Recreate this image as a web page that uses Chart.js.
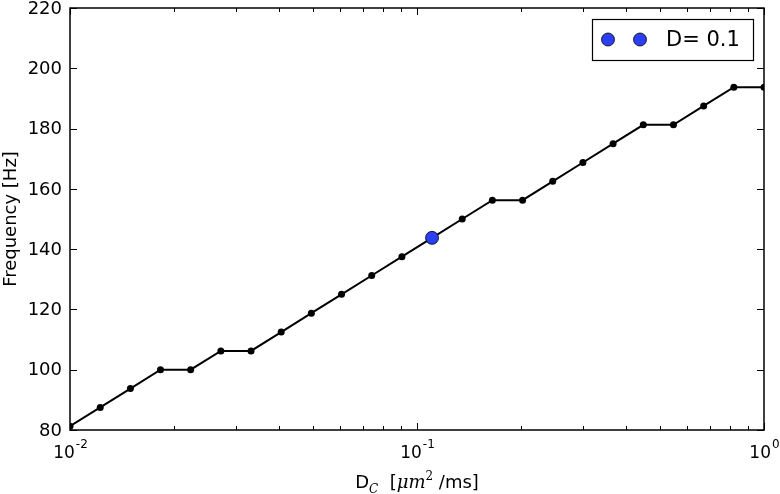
<!DOCTYPE html>
<html><head><meta charset="utf-8">
<script src="https://cdn.jsdelivr.net/npm/chart.js@4/dist/chart.umd.min.js"></script>
<style>html,body{margin:0;padding:0;background:#fff}#wrap{width:780px;height:494px}</style>
</head><body><div id="wrap"><canvas id="c" width="780" height="494"></canvas></div>
<script>
const diffusionC = [0.0100, 0.01222, 0.01493, 0.01823, 0.02227, 0.02721, 0.03324, 0.04061, 0.04961, 0.06061, 0.07405, 0.09047, 0.1105, 0.1350, 0.1649, 0.2015, 0.2461, 0.3007, 0.3674, 0.4489, 0.5484, 0.6700, 0.8185, 1.0];
const frequencyHz = [81.25, 87.5, 93.75, 100, 100, 106.25, 106.25, 112.5, 118.75, 125, 131.25, 137.5, 143.75, 150, 156.25, 156.25, 162.5, 168.75, 175, 181.25, 181.25, 187.5, 193.75, 193.75];
const markedD = [0.1105];
const markedFreq = [143.75];
const legendLabel = 'D= 0.1';
const yTicks = [80, 100, 120, 140, 160, 180, 200, 220];
const xMajorTicks = [0.01, 0.1, 1];
const xMajorLabels = [['10', '-2'], ['10', '-1'], ['10', '0']];
const xMinorTicks = [0.02, 0.03, 0.04, 0.05, 0.06, 0.07, 0.08, 0.09, 0.2, 0.3, 0.4, 0.5, 0.6, 0.7, 0.8, 0.9];
const yTitle = 'Frequency [Hz]';

const BLUE = '#2a3ff2';
const FONT = '"DejaVu Sans", sans-serif';

const framePlugin = {
  id: 'frame',
  afterDraw(chart) {
    const ctx = chart.ctx, a = chart.chartArea;
    const xs = chart.scales.x, ys = chart.scales.y;
    ctx.save();
    ctx.strokeStyle = '#000';
    ctx.lineWidth = 1.5;
    ctx.strokeRect(a.left, a.top, a.right - a.left, a.bottom - a.top);
    ctx.lineWidth = 1;
    ctx.beginPath();
    xMajorTicks.forEach(v => {
      const px = Math.round(xs.getPixelForValue(v)) + 0.5;
      ctx.moveTo(px, a.bottom); ctx.lineTo(px, a.bottom - 7);
      ctx.moveTo(px, a.top); ctx.lineTo(px, a.top + 7);
    });
    xMinorTicks.forEach(v => {
      const px = Math.round(xs.getPixelForValue(v)) + 0.5;
      ctx.moveTo(px, a.bottom); ctx.lineTo(px, a.bottom - 4);
      ctx.moveTo(px, a.top); ctx.lineTo(px, a.top + 4);
    });
    yTicks.forEach(v => {
      const py = Math.round(ys.getPixelForValue(v)) + 0.5;
      ctx.moveTo(a.left, py); ctx.lineTo(a.left + 7, py);
      ctx.moveTo(a.right, py); ctx.lineTo(a.right - 7, py);
    });
    ctx.stroke();

    ctx.fillStyle = '#000';
    // y tick labels
    ctx.font = '18px ' + FONT;
    ctx.textAlign = 'right';
    ctx.textBaseline = 'middle';
    yTicks.forEach(v => {
      ctx.fillText(String(v), a.left - 8, ys.getPixelForValue(v) + 1);
    });
    // x tick labels with superscript
    ctx.textBaseline = 'alphabetic';
    xMajorTicks.forEach((v, i) => {
      const px = xs.getPixelForValue(v);
      const [base, exp] = xMajorLabels[i];
      ctx.font = '17px ' + FONT;
      const wb = ctx.measureText(base).width;
      ctx.font = '12px ' + FONT;
      const we = ctx.measureText(exp).width;
      const start = px - (wb + we) / 2;
      ctx.textAlign = 'left';
      ctx.font = '17px ' + FONT;
      ctx.fillText(base, start, a.bottom + 28);
      ctx.font = '12px ' + FONT;
      ctx.fillText(exp, start + wb + 1, a.bottom + 18);
    });
    // x title: D_C [μm^2 /ms]
    const cx = (a.left + a.right) / 2;
    const by = a.bottom + 58;
    const parts = [
      {t: 'D', f: '18px ' + FONT, dy: 0},
      {t: 'C', f: 'italic 12px "DejaVu Serif", serif', dy: 5},
      {t: '  [', f: '18px ' + FONT, dy: 0},
      {t: 'μm', f: 'italic 18px "DejaVu Serif", serif', dy: 0},
      {t: '2', f: '12px "DejaVu Serif", serif', dy: -8},
      {t: ' /ms]', f: '18px ' + FONT, dy: 0}
    ];
    let total = 0;
    parts.forEach(p => { ctx.font = p.f; p.w = ctx.measureText(p.t).width; total += p.w; });
    let x0 = cx - total / 2;
    ctx.textAlign = 'left';
    parts.forEach(p => { ctx.font = p.f; ctx.fillText(p.t, x0, by + p.dy); x0 += p.w; });
    // y title
    ctx.save();
    ctx.translate(11, (a.top + a.bottom) / 2);
    ctx.rotate(-Math.PI / 2);
    ctx.font = '18px ' + FONT;
    ctx.textAlign = 'center';
    ctx.textBaseline = 'middle';
    ctx.fillText(yTitle, 0, 0);
    ctx.restore();

    // legend
    const lx = a.right - 172, ly = a.top + 11, lw = 161, lh = 41;
    ctx.fillStyle = '#fff';
    ctx.fillRect(lx, ly, lw, lh);
    ctx.lineWidth = 1.2;
    ctx.strokeStyle = '#000';
    ctx.strokeRect(lx + 0.5, ly + 0.5, lw, lh);
    [lx + 16, lx + 48].forEach(mx => {
      ctx.beginPath();
      ctx.arc(mx, ly + 20.5, 6.5, 0, Math.PI * 2);
      ctx.fillStyle = BLUE; ctx.fill();
      ctx.lineWidth = 0.8; ctx.strokeStyle = '#000'; ctx.stroke();
    });
    ctx.fillStyle = '#000';
    ctx.font = '21px ' + FONT;
    ctx.textAlign = 'left';
    ctx.textBaseline = 'middle';
    ctx.fillText(chart.data.datasets[1].label, lx + 74, ly + 21.5);
    ctx.restore();
  }
};

new Chart(document.getElementById('c'), {
  type: 'line',
  data: {
    datasets: [
      {
        label: 'freq',
        order: 2,
        data: diffusionC.map((d, i) => ({x: d, y: frequencyHz[i]})),
        borderColor: '#000',
        backgroundColor: '#000',
        borderWidth: 2,
        pointRadius: 3.5,
        pointBorderWidth: 0,
        pointBackgroundColor: '#000',
        tension: 0
      },
      {
        label: legendLabel,
        order: 0,
        data: markedD.map((d, i) => ({x: d, y: markedFreq[i]})),
        showLine: false,
        pointRadius: 6.5,
        pointBackgroundColor: BLUE,
        pointBorderColor: '#000',
        pointBorderWidth: 0.8
      }
    ]
  },
  options: {
    responsive: false,
    devicePixelRatio: 1,
    animation: false,
    layout: {padding: {left: 70, right: 16, top: 8, bottom: 64}},
    plugins: {legend: {display: false}, tooltip: {enabled: false}},
    scales: {
      x: {type: 'logarithmic', min: 0.01, max: 1, display: false},
      y: {type: 'linear', min: 80, max: 220, display: false}
    }
  },
  plugins: [framePlugin]
});
</script>
</body></html>
